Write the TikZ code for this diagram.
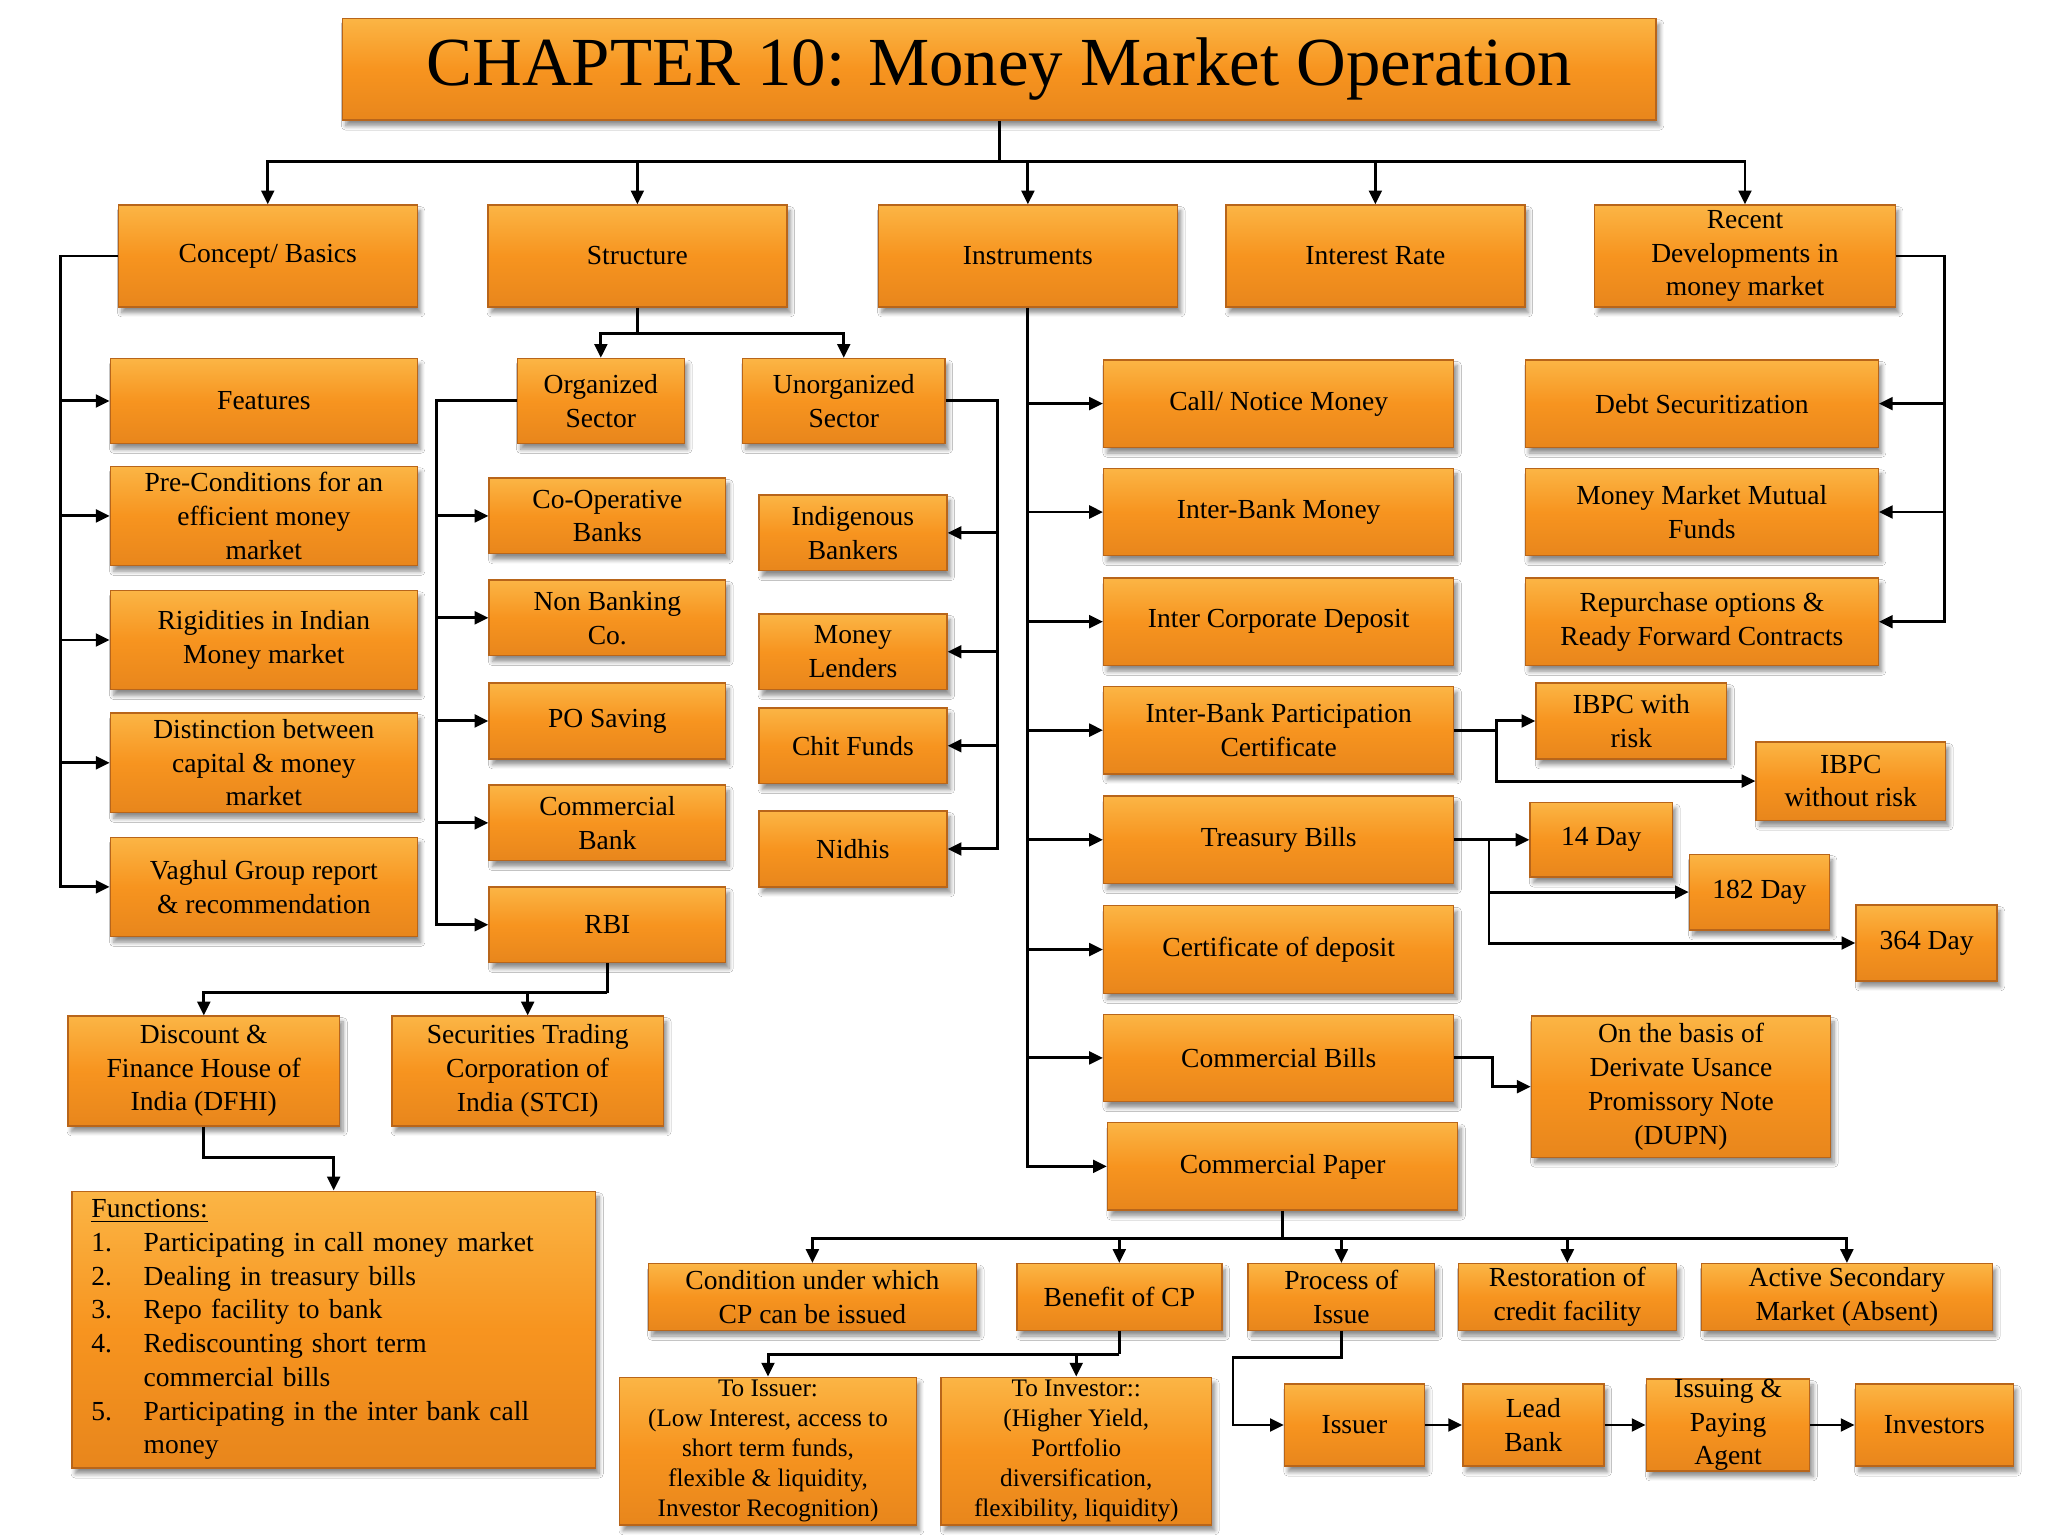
\documentclass[tikz,border=0pt]{standalone}
\usepackage{fontspec}
\setmainfont{Liberation Serif}
\usetikzlibrary{arrows.meta,shadows.blur}
\definecolor{boxtop}{HTML}{FBB545}
\definecolor{boxmid}{HTML}{F7941F}
\definecolor{boxbot}{HTML}{E8861C}
\definecolor{boxedge}{HTML}{B8651A}
\tikzset{
  box/.style={draw=boxedge,line width=0.6pt,top color=boxtop,bottom color=boxbot,middle color=boxmid,
    blur shadow={shadow xshift=1.5pt,shadow yshift=-2.5pt,shadow blur steps=6,shadow opacity=45},
    align=center,inner sep=1pt,font=\fontsize{12}{14.7}\selectfont},
  small/.style={font=\fontsize{11}{13}\selectfont},
  sz/.style 2 args={minimum width=#1*0.02cm,minimum height=#2*0.02cm},
  link/.style={line width=1.3pt},
  arr/.style={link,-{Triangle[length=6pt,width=5.5pt]}}
}
\begin{document}
\begin{tikzpicture}[x=0.02cm,y=-0.02cm]
\fill[white] (0,0) rectangle (1568,1176);
\useasboundingbox (0,0) rectangle (1568,1176);

\node[box,sz={1006}{78},font=\fontsize{30}{36}\selectfont] (title) at (765,53) {CHAPTER 10: Money Market Operation};

\node[box,sz={229}{78}] (concept) at (205,196) {Concept/ Basics};
\node[box,sz={229}{78}] (structure) at (488,196) {Structure};
\node[box,sz={229}{78}] (instr) at (787,196) {Instruments};
\node[box,sz={229}{78}] (interest) at (1053,196) {Interest Rate};
\node[box,sz={230}{78},inner sep=0pt] (recent) at (1336,196) {Recent\\Developments in\\money market};

\node[box,sz={235}{65}] (features) at (202,307) {Features};
\node[box,sz={235}{76}] (precond) at (202,395) {Pre-Conditions for an\\efficient money\\market};
\node[box,sz={235}{76}] (rigid) at (202,490) {Rigidities in Indian\\Money market};
\node[box,sz={235}{76}] (distinct) at (202,584) {Distinction between\\capital \& money\\market};
\node[box,sz={235}{76}] (vaghul) at (202,679) {Vaghul Group report\\\& recommendation};

\node[box,sz={128}{65}] (organized) at (460,307) {Organized\\Sector};
\node[box,sz={155}{65}] (unorg) at (646,307) {Unorganized\\Sector};
\node[box,sz={181}{58}] (coop) at (465,395) {Co-Operative\\Banks};
\node[box,sz={181}{58}] (nonbank) at (465,473) {Non Banking\\Co.};
\node[box,sz={181}{58}] (posaving) at (465,552) {PO Saving};
\node[box,sz={181}{58}] (commbank) at (465,630) {Commercial\\Bank};
\node[box,sz={181}{58}] (rbi) at (465,708) {RBI};
\node[box,sz={144}{58}] (indig) at (653,408) {Indigenous\\Bankers};
\node[box,sz={144}{58}] (lenders) at (653,499) {Money\\Lenders};
\node[box,sz={144}{58}] (chit) at (653,571) {Chit Funds};
\node[box,sz={144}{58}] (nidhis) at (653,650) {Nidhis};

\node[box,sz={208}{84}] (dfhi) at (156,820) {Discount \&\\Finance House of\\India (DFHI)};
\node[box,sz={208}{84}] (stci) at (404,820) {Securities Trading\\Corporation of\\India (STCI)};
\node[box,sz={401}{212},text width=7.42cm,align=left,inner xsep=0.3cm] (functions) at (255.5,1018) {%
\underline{Functions:}\\
\makebox[0.8cm][l]{1.}Participating in call money market\\
\makebox[0.8cm][l]{2.}Dealing in treasury bills\\
\makebox[0.8cm][l]{3.}Repo facility to bank\\
\makebox[0.8cm][l]{4.}Rediscounting short term\\
\hspace*{0.8cm}commercial bills\\
\makebox[0.8cm][l]{5.}Participating in the inter bank call\\
\hspace*{0.8cm}money};

\node[box,sz={268}{67}] (call) at (979,309) {Call/ Notice Money};
\node[box,sz={268}{67}] (interbank) at (979,392) {Inter-Bank Money};
\node[box,sz={268}{67}] (icd) at (979,476) {Inter Corporate Deposit};
\node[box,sz={268}{67}] (ibpc) at (979,559) {Inter-Bank Participation\\Certificate};
\node[box,sz={268}{67}] (tbills) at (979,643) {Treasury Bills};
\node[box,sz={268}{67}] (cd) at (979,727) {Certificate of deposit};
\node[box,sz={268}{67}] (cbills) at (979,810) {Commercial Bills};
\node[box,sz={268}{67}] (cpaper) at (982,893) {Commercial Paper};

\node[box,sz={270}{67}] (debt) at (1303,309) {Debt Securitization};
\node[box,sz={270}{67}] (mmmf) at (1303,392) {Money Market Mutual\\Funds};
\node[box,sz={270}{67}] (repo) at (1303,476) {Repurchase options \&\\Ready Forward Contracts};

\node[box,sz={146}{58}] (ibpcrisk) at (1249,552) {IBPC with\\risk};
\node[box,sz={145}{60}] (ibpcnorisk) at (1417,598) {IBPC\\without risk};
\node[box,sz={109}{57}] (d14) at (1226,643) {14 Day};
\node[box,sz={107}{58}] (d182) at (1347,683) {182 Day};
\node[box,sz={108}{58}] (d364) at (1475,722) {364 Day};
\node[box,sz={229}{108}] (dupn) at (1287,832) {On the basis of\\Derivate Usance\\Promissory Note\\(DUPN)};

\node[box,sz={251}{51},inner sep=0pt] (cond) at (622,993) {Condition under which\\CP can be issued};
\node[box,sz={157}{51}] (benefit) at (857,993) {Benefit of CP};
\node[box,sz={143}{51},inner sep=0pt] (process) at (1027,993) {Process of\\Issue};
\node[box,sz={167}{51},inner sep=0pt] (restor) at (1200,993) {Restoration of\\credit facility};
\node[box,sz={223}{51},inner sep=0pt] (active) at (1414,993) {Active Secondary\\Market (Absent)};

\node[box,small,sz={227}{113},inner sep=0pt] (toissuer) at (588,1111) {To Issuer:\\(Low Interest, access to\\short term funds,\\flexible \& liquidity,\\Investor Recognition)};
\node[box,small,sz={207}{113},inner sep=0pt] (toinvestor) at (824,1111) {To Investor::\\(Higher Yield,\\Portfolio\\diversification,\\flexibility, liquidity)};
\node[box,sz={107}{63}] (issuer) at (1037,1091) {Issuer};
\node[box,sz={108}{63}] (leadbank) at (1174,1091) {Lead\\Bank};
\node[box,sz={125}{63},inner sep=0pt] (paying) at (1323,1091) {Issuing \&\\Paying\\Agent};
\node[box,sz={121}{63}] (investors) at (1481,1091) {Investors};

\coordinate (bus) at (765,124);
\draw[link] (title.south) -- (bus);
\foreach \n in {concept,structure,instr,interest,recent}
  \draw[arr] (bus) -| (\n.north);

\coordinate (cbus) at (46,196);
\draw[arr] (concept.west) -- (cbus) |- (vaghul.west);
\foreach \n in {features,precond,rigid,distinct}
  \draw[arr] (cbus |- \n.west) -- (\n.west);

\coordinate (sbus) at (488,255);
\draw[link] (structure.south) -- (sbus);
\draw[arr] (sbus) -| (organized.north);
\draw[arr] (sbus) -| (unorg.north);

\coordinate (obus) at (334,307);
\draw[arr] (organized.west) -- (obus) |- (rbi.west);
\foreach \n in {coop,nonbank,posaving,commbank}
  \draw[arr] (obus |- \n.west) -- (\n.west);

\coordinate (ubus) at (764,307);
\draw[arr] (unorg.east) -- (ubus) |- (nidhis.east);
\foreach \n in {indig,lenders,chit}
  \draw[arr] (ubus |- \n.east) -- (\n.east);

\coordinate (rb) at (465,760);
\draw[link] (rbi.south) -- (rb);
\draw[arr] (rb) -| (dfhi.north);
\draw[arr] (rb) -| (stci.north);
\coordinate (df) at (156,886);
\draw[arr] (dfhi.south) -- (df) -| (functions.north);

\draw[arr] (instr.south) |- (cpaper.west);
\foreach \n in {call,interbank,icd,ibpc,tbills,cd,cbills}
  \draw[arr] (instr.south |- \n.west) -- (\n.west);

\coordinate (rbus) at (1489,196);
\draw[arr] (recent.east) -- (rbus) |- (repo.east);
\foreach \n in {debt,mmmf}
  \draw[arr] (rbus |- \n.east) -- (\n.east);

\coordinate (ib) at (1146,559);
\draw[link] (ibpc.east) -- (ib);
\draw[arr] (ib) |- (ibpcrisk.west);
\draw[arr] (ib) |- (ibpcnorisk.west);

\coordinate (tb) at (1140,643);
\draw[link] (tbills.east) -- (tb);
\draw[arr] (tb) -- (d14.west);
\draw[arr] (tb) |- (d182.west);
\draw[arr] (tb) |- (d364.west);

\coordinate (cb) at (1143,810);
\draw[arr] (cbills.east) -- (cb) |- (dupn.west);

\coordinate (cpb) at (982,948);
\draw[link] (cpaper.south) -- (cpb);
\foreach \n in {cond,benefit,process,restor,active}
  \draw[arr] (cpb) -| (\n.north);

\coordinate (bb) at (857,1037);
\draw[link] (benefit.south) -- (bb);
\draw[arr] (bb) -| (toissuer.north);
\draw[arr] (bb) -| (toinvestor.north);

\coordinate (pi) at (944,1039);
\draw[arr] (process.south) |- (pi) |- (issuer.west);
\draw[arr] (issuer.east) -- (leadbank.west);
\draw[arr] (leadbank.east) -- (paying.west);
\draw[arr] (paying.east) -- (investors.west);
\end{tikzpicture}
\end{document}
